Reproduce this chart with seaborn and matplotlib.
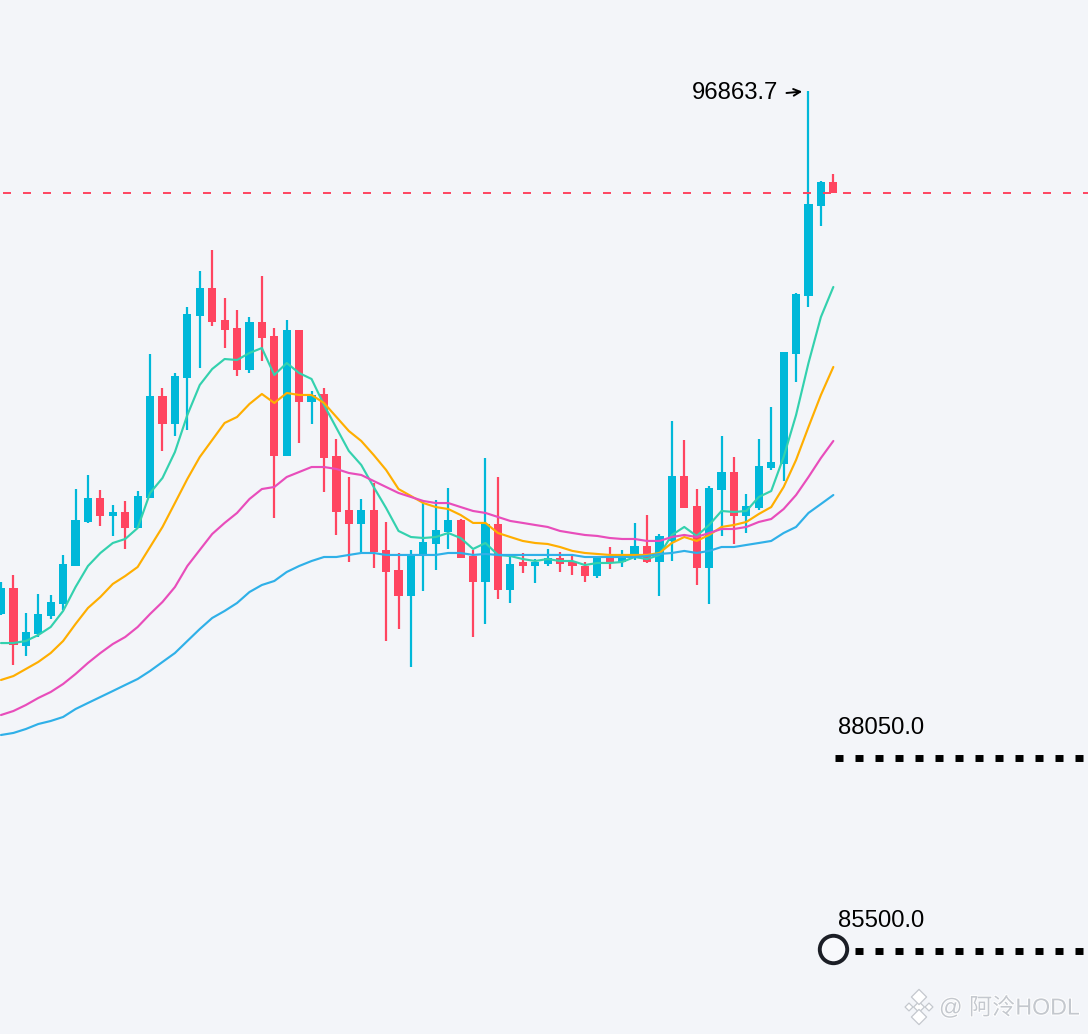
import numpy as np
import pandas as pd
import matplotlib
matplotlib.use('Agg')
import matplotlib.pyplot as plt
import matplotlib.patheffects as pe
import seaborn as sns

# candles
high = [90376, 90468, 89966, 90217, 90204, 90733, 91604, 91790, 91591, 91393, 91446, 91578,
        93388, 92939, 93137, 94009, 94485, 94762, 94128, 93970, 93877, 94419, 93732, 93838,
        93705, 92900, 92939, 92265, 91763, 91472, 91684, 91169, 90759, 90799, 91433, 91459,
        91618, 91208, 90799, 92014, 91763, 90706, 90759, 90679, 90812, 90772, 90719, 90640,
        90706, 90838, 90799, 91156, 91261, 91010, 92503, 92252, 91604, 91644, 92305, 92027,
        91538, 92265, 92688, 93415, 94194, 96863.7, 95674, 95767]
low = [89940, 89279, 89398, 89649, 89887, 90006, 90587, 91156, 91116, 90984, 90812, 91089,
       91485, 92107, 92305, 92384, 93203, 93758, 93467, 93098, 93137, 93296, 91221, 92041,
       92213, 92463, 91565, 90997, 90640, 90772, 90560, 89596, 89754, 89253, 90257, 90534,
       90812, 90693, 89649, 89821, 90151, 90098, 90495, 90363, 90587, 90508, 90468, 90376,
       90429, 90547, 90574, 90666, 90627, 90191, 90653, 91353, 90336, 90085, 90984, 90878,
       91023, 91327, 91856, 91710, 93019, 94009, 95080, 95516]
open_ = [89953, 90296, 89530, 89688, 89927, 90085, 90587, 91169, 91485, 91248, 91301, 91089,
         91485, 92834, 92463, 93071, 93891, 94260, 93838, 93732, 93177, 93811, 93626, 92041,
         93705, 92754, 92860, 92041, 91327, 91142, 91327, 90799, 90534, 90191, 90733, 90878,
         91036, 91195, 90719, 90376, 91142, 90270, 90640, 90587, 90613, 90693, 90640, 90587,
         90455, 90693, 90640, 90693, 90852, 90640, 90918, 91776, 91380, 90560, 91591, 91829,
         91248, 91353, 91882, 91935, 93388, 94155, 95344, 95661]
close = [90296, 89543, 89715, 89953, 90112, 90613, 91195, 91485, 91248, 91301, 91089, 91512,
         92834, 92463, 93098, 93917, 94260, 93811, 93705, 93177, 93811, 93600, 92041, 93705,
         92754, 92847, 92014, 91301, 91142, 91327, 90772, 90508, 90191, 90733, 90905, 91063,
         91195, 90693, 90376, 91142, 90270, 90613, 90587, 90640, 90693, 90613, 90587, 90455,
         90693, 90640, 90693, 90852, 90640, 90984, 91776, 91353, 90560, 91618, 91829, 91248,
         91380, 91908, 91961, 93415, 94181, 95370, 95661, 95516]

# moving averages
ma_green = [89569, 89569, 89596, 89675, 89781, 89993, 90309, 90587, 90759, 90891, 90944, 91089,
            91552, 91750, 92093, 92582, 92979, 93190, 93322, 93309, 93402, 93467, 93111, 93269,
            93137, 93058, 92715, 92411, 92107, 91922, 91631, 91353, 91050, 90970, 90957, 90970,
            91023, 90957, 90812, 90891, 90733, 90719, 90679, 90653, 90679, 90653, 90653, 90600,
            90627, 90627, 90640, 90706, 90679, 90733, 90997, 91103, 90984, 91129, 91314, 91301,
            91314, 91499, 91578, 92027, 92582, 93269, 93877, 94274]
ma_orange = [89081, 89133, 89226, 89319, 89437, 89596, 89821, 90032, 90178, 90350, 90455, 90574,
             90838, 91103, 91419, 91737, 92027, 92252, 92477, 92556, 92728, 92860, 92741, 92873,
             92847, 92847, 92741, 92556, 92371, 92239, 92054, 91856, 91604, 91512, 91419, 91366,
             91340, 91261, 91156, 91156, 91023, 90970, 90918, 90891, 90878, 90838, 90786, 90759,
             90746, 90733, 90733, 90733, 90733, 90759, 90891, 90970, 90918, 90997, 91103, 91129,
             91169, 91274, 91366, 91631, 91988, 92424, 92847, 93217]
ma_pink = [88618, 88671, 88750, 88843, 88922, 89028, 89160, 89306, 89437, 89556, 89649, 89781,
           89953, 90112, 90309, 90587, 90799, 91010, 91156, 91288, 91472, 91604, 91631, 91763,
           91829, 91895, 91895, 91869, 91816, 91790, 91710, 91631, 91552, 91499, 91446, 91419,
           91419, 91366, 91314, 91288, 91235, 91182, 91156, 91129, 91103, 91050, 91023, 90997,
           90984, 90957, 90944, 90944, 90918, 90918, 90970, 90997, 90970, 91023, 91076, 91076,
           91103, 91169, 91208, 91340, 91525, 91763, 92014, 92239]
ma_blue = [88354, 88381, 88433, 88499, 88539, 88592, 88697, 88777, 88856, 88935, 89015, 89094,
           89200, 89319, 89437, 89596, 89754, 89900, 89993, 90098, 90243, 90336, 90389, 90508,
           90587, 90653, 90706, 90706, 90733, 90759, 90759, 90733, 90733, 90733, 90733, 90733,
           90759, 90759, 90733, 90746, 90733, 90733, 90733, 90733, 90733, 90733, 90733, 90706,
           90706, 90706, 90706, 90706, 90719, 90746, 90759, 90786, 90759, 90786, 90838, 90838,
           90865, 90891, 90918, 91023, 91103, 91288, 91406, 91525]

peak_label = '96863.7'
last_price = 95516
levels = [88050.0, 85500.0]
watermark = '@ 阿泠HODL'

BG = '#F3F5F9'
UP = '#00B8D9'
DOWN = '#FF4560'
ma_colors = {'green': '#33D1AE', 'orange': '#FFAE00', 'pink': '#E84DBB', 'blue': '#2FB0E8'}

sns.set_theme(style='white')
plt.rcParams['font.family'] = ['Liberation Sans', 'Noto Sans CJK SC', 'DejaVu Sans']
plt.rcParams['lines.scale_dashes'] = False

idx = np.arange(len(high))
df = pd.DataFrame({'idx': idx, 'open': open_, 'close': close, 'high': high, 'low': low})
df['color'] = np.where(df['close'] >= df['open'], UP, DOWN)

ma = pd.DataFrame({'idx': idx, 'green': ma_green, 'orange': ma_orange, 'pink': ma_pink, 'blue': ma_blue})
ma_long = ma.melt(id_vars='idx', var_name='ma', value_name='price')

fig = plt.figure(figsize=(10.88, 10.34), dpi=100, facecolor=BG)
ax = fig.add_axes([0, 0, 1, 1], facecolor=BG)

ax.vlines(df['idx'], df['low'], df['high'], colors=df['color'], linewidth=1.6, zorder=2)
ax.bar(df['idx'], (df['close'] - df['open']).abs(), bottom=df[['open', 'close']].min(axis=1),
       width=0.66, color=df['color'], linewidth=0, zorder=3)

sns.lineplot(data=ma_long, x='idx', y='price', hue='ma', palette=ma_colors, estimator=None,
             sort=False, legend=False, linewidth=1.55, zorder=4, ax=ax)

ax.set_xlim(-0.08, 87.5)
ax.set_ylim(84403, 98066)
ax.set_axis_off()

# last price line
ax.plot([0.2, 87.5], [last_price, last_price], color=DOWN, linewidth=1.4,
        linestyle=(0, (5.76, 8.64)), dash_capstyle='butt', zorder=5)

# support levels
for level in levels:
    ax.plot([67.15, 87.5], [level, level], color='black', linewidth=5,
            linestyle=(0, (5.76, 8.64)), dash_capstyle='butt', zorder=5)
    ax.annotate(f'{level:.1f}', xy=(67, level), xytext=(5, 19), textcoords='offset pixels',
                fontsize=17.2, color='black', ha='left', va='bottom', zorder=6)

ax.scatter([67], [levels[1] + 26], s=390, facecolor='#F8F9FC', edgecolor='#1B1E26',
           linewidth=2.8, zorder=7)

ax.annotate(peak_label, xy=(65, high[65]), xytext=(-117, -2), textcoords='offset pixels',
            fontsize=17.2, color='black', ha='left', va='center', zorder=6)
ax.annotate('', xy=(65, high[65]), xytext=(-22, -2), textcoords='offset pixels',
            arrowprops=dict(arrowstyle='->', color='black', lw=1.4, shrinkA=0, shrinkB=4.5,
                            mutation_scale=12), zorder=6)

# watermark, bottom right
wm_color = '#C4C8CE'
emboss = [pe.withStroke(linewidth=1.4, foreground='white')]
ax.text(939 / 1088, 1 - 1008 / 1034, watermark, transform=ax.transAxes, fontsize=16.7,
        color=wm_color, ha='left', va='center', zorder=6, path_effects=emboss)
logo_x = [919, 919, 919, 909, 929]
logo_y = [1007, 997, 1017, 1007, 1007]
logo_s = [30, 60, 60, 16, 16]
ax.scatter([v / 1088 for v in logo_x], [1 - v / 1034 for v in logo_y], transform=ax.transAxes,
           marker='D', s=logo_s, facecolor='white', edgecolor=wm_color, linewidth=0.9, zorder=6)

fig.savefig('out.png', dpi=100, facecolor=BG)
